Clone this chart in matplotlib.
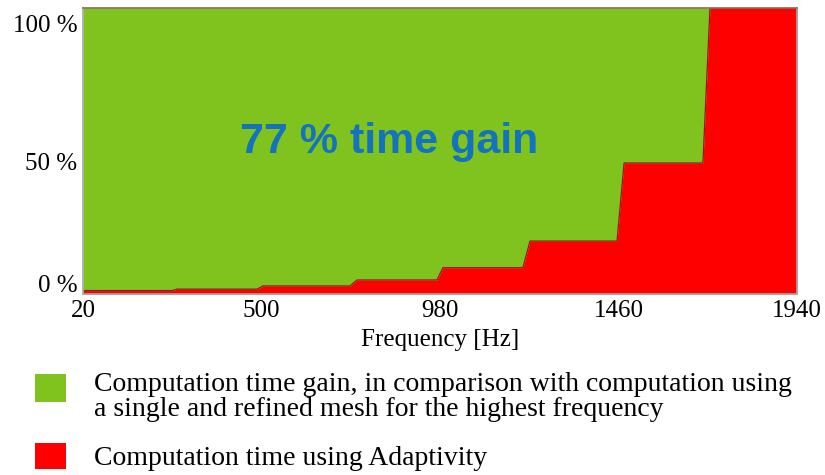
import matplotlib
matplotlib.use("Agg")
import matplotlib.pyplot as plt
from matplotlib.patches import Rectangle

# figure size in px (dpi 100)
W, H = 825, 475
GREEN = "#80c31f"
RED = "#ff0000"
EDGE = "#8b1a1a"
FRAME = "#a8a8a8"
SERIF = "Liberation Serif"

# step breakpoints
freq = [20, 260, 273, 488, 504, 738, 757, 972, 988, 1203, 1222, 1456, 1475, 1687, 1706, 1940]
adaptivity = [1.2, 1.2, 1.7, 1.7, 2.8, 2.8, 4.9, 4.9, 9.2, 9.2, 18.5, 18.5, 45.8, 45.8, 100, 100]
total = [100] * len(freq)

xticks = [20, 500, 980, 1460, 1940]
ytick_pos = [3.8, 46.2, 94.5]
ytick_labels = ["0 %", "50 %", "100 %"]

legend_labels = [
    ["Computation time gain, in comparison with computation using",
     "a single and refined mesh for the highest frequency"],
    ["Computation time using Adaptivity"],
]

fig = plt.figure(figsize=(W / 100, H / 100), dpi=100)
ax = fig.add_axes([83 / W, 1 - 294 / H, 714 / W, 286 / H])

ax.fill_between(freq, adaptivity, total, color=GREEN, linewidth=0)
ax.fill_between(freq, 0, adaptivity, color=RED, linewidth=0)
ax.plot(freq, adaptivity, color=EDGE, linewidth=0.9)

ax.set_xlim(20, 1940)
ax.set_ylim(0, 100)
ax.set_xticks(xticks)
ax.set_xticklabels([str(t) for t in xticks], fontfamily=SERIF, fontsize=18)
ax.set_yticks(ytick_pos)
ax.set_yticklabels(ytick_labels, fontfamily=SERIF, fontsize=18)
ax.tick_params(axis="both", length=0)
ax.tick_params(axis="x", pad=4)
ax.tick_params(axis="y", pad=4)
for s in ax.spines.values():
    s.set_color(FRAME)
    s.set_linewidth(1.2)
ax.spines["top"].set_color("#8a6a50")

ax.set_xlabel("Frequency [Hz]", fontfamily=SERIF, fontsize=18, va="baseline")
ax.xaxis.set_label_coords(0.5, -0.182)

ax.text(843, 49.3, "77 % time gain", fontfamily="Liberation Sans", fontweight="bold",
        fontsize=31, color="#1373bd", ha="center", va="baseline")

# legend drawn by hand
boxes = [(374, 402, GREEN), (443, 469, RED)]
for (y0, y1, c) in boxes:
    fig.add_artist(Rectangle((35 / W, 1 - y1 / H), 31 / W, (y1 - y0) / H,
                             transform=fig.transFigure, facecolor=c, edgecolor="none"))
baselines = [[391, 416], [465]]
for lines, bls in zip(legend_labels, baselines):
    for txt, b in zip(lines, bls):
        fig.text(94 / W, 1 - b / H, txt, fontfamily=SERIF, fontsize=20, va="baseline")

plt.savefig("out.png", dpi=100)
plt.close()
